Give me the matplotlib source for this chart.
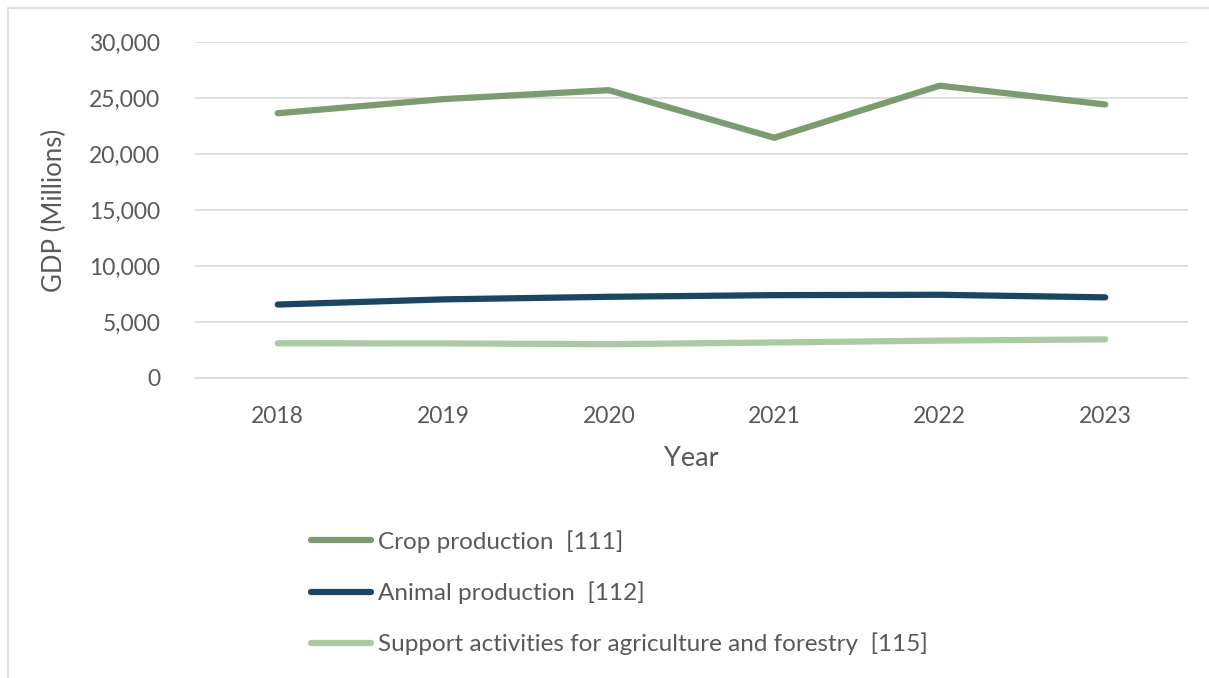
import matplotlib
matplotlib.use("Agg")
import matplotlib.pyplot as plt
from matplotlib.ticker import FuncFormatter
from matplotlib.patches import Rectangle

years = ["2018", "2019", "2020", "2021", "2022", "2023"]
crop = [23640, 24900, 25700, 21450, 26100, 24420]
animal = [6560, 7020, 7250, 7400, 7430, 7200]
support = [3100, 3090, 3020, 3170, 3340, 3450]
labels = ["Crop production  [111]", "Animal production  [112]",
          "Support activities for agriculture and forestry  [115]"]
colors = ["#7A9C6E", "#1B4663", "#A8CCA0"]

plt.rcParams['font.family'] = ['Lato', 'DejaVu Sans']
W, H = 1209, 678
fig = plt.figure(figsize=(W/100, H/100), dpi=100)
ax = fig.add_axes([195/W, 1-378/H, (1188-195)/W, (378-42)/H])

fig.patches.append(Rectangle((8/W, -0.01), 1.0, 1-8/H+0.01, transform=fig.transFigure,
                             fill=False, edgecolor="#D9D9D9", linewidth=1.2))

x = list(range(len(years)))
for series, lab, c in zip([crop, animal, support], labels, colors):
    ax.plot(x, series, color=c, linewidth=4.5, solid_capstyle='round', label=lab)

ax.set_xlim(-0.5, len(years)-0.5)
ax.set_ylim(0, 30000)
ax.set_yticks(range(0, 30001, 5000))
ax.yaxis.set_major_formatter(FuncFormatter(lambda v, p: f"{int(v):,}"))
ax.set_xticks(x)
ax.set_xticklabels(years)
ax.grid(axis='y', color="#D9D9D9", linewidth=1.2)
ax.set_axisbelow(True)
for s in ['top', 'right', 'left']:
    ax.spines[s].set_visible(False)
ax.spines['bottom'].set_color("#D9D9D9")
ax.spines['bottom'].set_linewidth(1.2)
ax.tick_params(axis='both', length=0, labelsize=16.5, labelcolor="#595959")
ax.tick_params(axis='y', pad=25)
ax.tick_params(axis='x', pad=20)
ax.set_xlabel("Year", fontsize=19.5, color="#595959", labelpad=14)
ax.set_ylabel("GDP (Millions)", fontsize=18.5, color="#595959", labelpad=16)

leg = fig.legend(loc='upper left', bbox_to_anchor=(299/W, 1-518/H), frameon=False,
                 fontsize=17.5, handlelength=2.45, handletextpad=0.28, labelspacing=1.18,
                 borderpad=0, labelcolor="#595959")

fig.savefig("out.png", dpi=100)
